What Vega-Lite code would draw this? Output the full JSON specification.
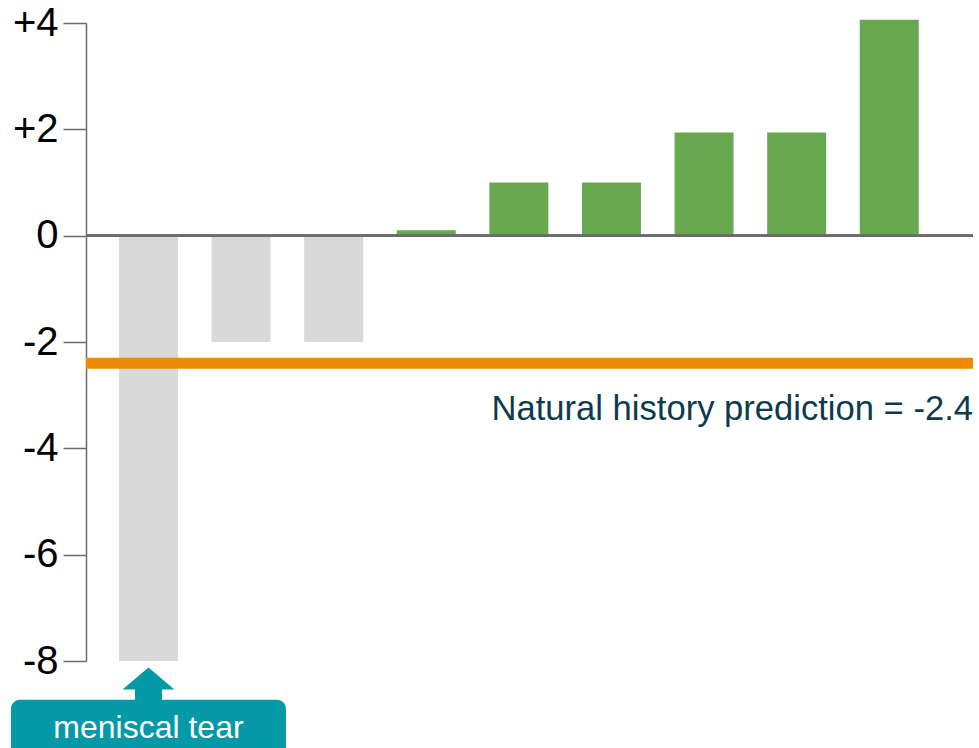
{
  "$schema": "https://vega.github.io/schema/vega-lite/v6.json",
  "width": 887,
  "height": 638,
  "autosize": {"type": "none"},
  "padding": {"left": 86, "top": 23, "right": 6, "bottom": 87},
  "background": "white",
  "config": {
    "view": {"stroke": null},
    "font": "Liberation Sans"
  },
  "datasets": {
    "patients": [
      {"patient": 1, "change": -8},
      {"patient": 2, "change": -2},
      {"patient": 3, "change": -2},
      {"patient": 4, "change": 0.1},
      {"patient": 5, "change": 1},
      {"patient": 6, "change": 1},
      {"patient": 7, "change": 1.94},
      {"patient": 8, "change": 1.94},
      {"patient": 9, "change": 4.06}
    ],
    "prediction": [{"label": "Natural history prediction = -2.4", "value": -2.4}],
    "callout": [{"patient": 1, "label": "meniscal tear"}]
  },
  "layer": [
    {
      "data": {"name": "patients"},
      "mark": {"type": "bar"},
      "encoding": {
        "x": {
          "field": "patient",
          "type": "ordinal",
          "scale": {"type": "band", "paddingInner": 0.363, "paddingOuter": 0.471, "align": 0.378},
          "axis": null
        },
        "y": {
          "field": "change",
          "type": "quantitative",
          "scale": {"domain": [-8, 4], "nice": false, "zero": false},
          "axis": {
            "values": [-8, -6, -4, -2, 0, 2, 4],
            "labelExpr": "datum.value > 0 ? '+' + datum.value : '' + datum.value",
            "title": null,
            "grid": false,
            "labelFontSize": 40,
            "labelColor": "#000000",
            "labelPadding": 5,
            "tickSize": 23,
            "tickColor": "#6b6b6b",
            "tickWidth": 1.5,
            "domainColor": "#6b6b6b",
            "domainWidth": 1.5
          }
        },
        "color": {
          "condition": {"test": "datum.change > 0", "value": "#69A84F"},
          "value": "#D9D9D9"
        }
      }
    },
    {
      "data": {"name": "patients"},
      "mark": {"type": "rule", "color": "#6b6b6b", "strokeWidth": 2},
      "encoding": {"y": {"datum": 0, "type": "quantitative"}}
    },
    {
      "data": {"name": "prediction"},
      "mark": {"type": "rule", "color": "#EE8A05", "strokeWidth": 11},
      "encoding": {"y": {"field": "value", "type": "quantitative"}}
    },
    {
      "data": {"name": "prediction"},
      "mark": {"type": "text", "align": "right", "baseline": "alphabetic", "fontSize": 34.6, "color": "#0E3A50", "dy": 57},
      "encoding": {
        "x": {"value": "width"},
        "y": {"field": "value", "type": "quantitative"},
        "text": {"field": "label"}
      }
    },
    {
      "data": {"name": "callout"},
      "mark": {"type": "bar", "width": 275, "cornerRadius": 9, "color": "#0399A6", "clip": false},
      "encoding": {
        "x": {"field": "patient", "type": "ordinal"},
        "y": {"datum": -8.73, "type": "quantitative"},
        "y2": {"datum": -10.2}
      }
    },
    {
      "data": {"name": "callout"},
      "mark": {
        "type": "point",
        "shape": "M0,-0.67 L1,0.18 L0.52,0.18 L0.52,0.72 L-0.52,0.72 L-0.52,0.18 L-1,0.18 Z",
        "size": 2704,
        "filled": true,
        "opacity": 1,
        "color": "#0399A6",
        "strokeWidth": 0,
        "clip": false
      },
      "encoding": {
        "x": {"field": "patient", "type": "ordinal"},
        "y": {"datum": -8.45, "type": "quantitative"}
      }
    },
    {
      "data": {"name": "callout"},
      "mark": {"type": "text", "align": "center", "baseline": "alphabetic", "fontSize": 32, "color": "#FFFFFF", "clip": false},
      "encoding": {
        "x": {"field": "patient", "type": "ordinal"},
        "y": {"datum": -9.44, "type": "quantitative"},
        "text": {"field": "label"}
      }
    }
  ]
}
